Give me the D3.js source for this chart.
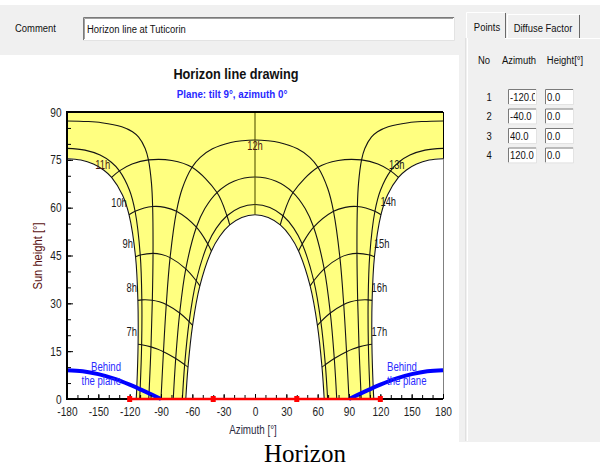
<!DOCTYPE html>
<html>
<head>
<meta charset="utf-8">
<script src="https://cdn.jsdelivr.net/npm/d3@7"></script>
<style>
  body { margin: 0; background: #fff; }
  svg { display: block; font-family: "Liberation Sans", Arial, sans-serif; }
</style>
</head>
<body>
<svg width="600" height="467"></svg>
<script>
const svg = d3.select("svg")

// ---------- data ----------
const comment = "Horizon line at Tuticorin"
const title = "Horizon line drawing"
const subtitle = "Plane: tilt 9°, azimuth 0°"

// horizon points table
const pointNo = [1, 2, 3, 4]
const pointAzimuth = [-120, -40, 40, 120]
const pointHeight = [0, 0, 0, 0]

const azimuthTicks = [-180, -150, -120, -90, -60, -30, 0, 30, 60, 90, 120, 150, 180]
const heightTicks = [0, 15, 30, 45, 60, 75, 90]

// sun paths, morning half [azimuth, height], sunrise -> solar noon
// (afternoon half is the mirror image, drawn with a mirrored x scale)
const dayPathDecl = [-23.44, -20.2, -11.6, 0, 11.6, 20.2, 23.44]
const pathM23 = [[-66.27, 0], [-64.15, 10.01], [-59.76, 23.11], [-52.80, 35.47], [-41.71, 46.42], [-33.89, 50.97], [-24.20, 54.58], [-12.69, 56.94], [0, 57.76]]
const pathM20 = [[-69.55, 0], [-67.34, 10.79], [-63.06, 24.26], [-56.29, 37.08], [-45.23, 48.62], [-37.16, 53.52], [-26.84, 57.46], [-14.23, 60.07], [0, 61.0]]
const pathM12 = [[-78.26, 0], [-75.91, 12.70], [-72.12, 26.95], [-66.26, 40.82], [-56.15, 53.86], [-48.03, 59.73], [-36.40, 64.74], [-20.22, 68.27], [0, 69.6]]
const path0 = [[-90, 0], [-87.65, 14.82], [-84.95, 29.61], [-81.30, 44.33], [-75.16, 58.85], [-69.72, 65.93], [-60.28, 72.66], [-52.42, 75.78], [-40.70, 78.46], [-23.21, 80.44], [-12.06, 81.0], [0, 81.2]]
const pathP12 = [[-101.74, 0], [-101.47, 1.76], [-99.59, 16.34], [-98.30, 30.98], [-97.63, 45.66], [-98.01, 60.35], [-99.13, 67.69], [-102.02, 74.98], [-105.15, 78.58], [-111.40, 82.10], [-117.30, 83.80], [-127.54, 85.37], [-146.82, 86.65], [-160.75, 87.03], [-180, 87.2]]
const pathP20 = [[-110.45, 0], [-109.98, 3.03], [-108.54, 17.03], [-108.34, 31.10], [-109.86, 45.13], [-114.81, 58.88], [-120.15, 65.47], [-129.80, 71.55], [-137.56, 74.23], [-148.31, 76.48], [-162.8, 78.04], [-180, 78.6]]
const pathP23 = [[-113.73, 0], [-113.19, 3.49], [-111.93, 17.19], [-112.12, 30.94], [-114.37, 44.59], [-120.62, 57.79], [-126.88, 63.96], [-137.30, 69.49], [-144.98, 71.83], [-154.73, 73.69], [-166.68, 74.93], [-180, 75.36]]
const dayPaths = [pathM23, pathM20, pathM12, path0, pathP12, pathP20, pathP23]

// hour lines (morning), from winter to summer path
const hour7 = [[-64.15, 10.01], [-67.34, 10.79], [-75.91, 12.70], [-87.65, 14.82], [-93.60, 15.66], [-99.59, 16.34], [-108.54, 17.03], [-111.93, 17.19]]
const hour8 = [[-59.76, 23.11], [-63.06, 24.26], [-72.12, 26.95], [-84.95, 29.61], [-91.58, 30.47], [-98.30, 30.98], [-108.34, 31.10], [-112.12, 30.94]]
const hour9 = [[-52.80, 35.47], [-56.29, 37.08], [-66.26, 40.82], [-81.30, 44.33], [-89.37, 45.29], [-97.63, 45.66], [-109.86, 45.13], [-114.37, 44.59]]
const hour10 = [[-41.71, 46.42], [-45.23, 48.62], [-56.15, 53.86], [-75.16, 58.85], [-86.33, 60.10], [-98.01, 60.35], [-114.81, 58.88], [-120.62, 57.79]]
const hour11 = [[-24.20, 54.58], [-26.84, 57.46], [-36.40, 64.74], [-60.28, 72.66], [-79.60, 74.80], [-102.02, 74.98], [-117.66, 73.69], [-129.80, 71.55], [-137.30, 69.49]]
const hourLines = [hour7, hour8, hour9, hour10, hour11]
const noonLine = [[0, 57.76], [0, 90]]

const hourLabels = ["7h", "8h", "9h", "10h", "11h", "12h", "13h", "14h", "15h", "16h", "17h"]
const hourLabelAz = [-118.1, -118.1, -121.9, -130.2, -145.8, 0, 135.7, 127.6, 121.3, 119.0, 119.0]
const hourLabelHeight = [21.1, 34.9, 48.6, 61.7, 73.6, 79.3, 73.6, 61.9, 48.6, 34.9, 21.1]

// plane tilt 9°: sun behind the plane below this line (left side, mirrored on right)
const behindAz = [-180, -165, -150, -135, -120, -105, -90]
const behindHeight = [9.0, 8.7, 7.8, 6.4, 4.5, 2.3, 0]

// ---------- UI frame ----------
const gray = "#f0f0f0"
const uiFont = 11

svg.append("rect").attr("x", 0).attr("y", 5).attr("width", 460).attr("height", 50).attr("fill", gray)
svg.append("rect").attr("x", 459).attr("y", 5).attr("width", 141).attr("height", 437).attr("fill", gray)

function uiText(parent, xx, yy, txt, anchor, sx) {
  return parent.append("text")
    .attr("transform", `translate(${xx},${yy}) scale(${sx || 0.86},1)`)
    .attr("text-anchor", anchor || "start")
    .attr("font-size", uiFont)
    .attr("fill", "#111")
    .text(txt)
}

uiText(svg, 15, 32, "Comment")
// sunken text box
svg.append("rect").attr("x", 83).attr("y", 17).attr("width", 371).attr("height", 23).attr("fill", "#fff")
svg.append("path").attr("d", "M83.5,40V17.5H454").attr("stroke", "#7a7a7a").attr("fill", "none")
svg.append("path").attr("d", "M84.5,39V18.5H453").attr("stroke", "#a0a0a0").attr("fill", "none")
svg.append("path").attr("d", "M83,40.5H454.5V17").attr("stroke", "#e3e3e3").attr("fill", "none")
uiText(svg, 87, 33, comment)

// tabs
svg.append("path").attr("d", "M466.5,38V12.5H505").attr("stroke", "#fff").attr("fill", "none")
svg.append("path").attr("d", "M505.5,13V38").attr("stroke", "#696969").attr("fill", "none")
svg.append("path").attr("d", "M507.5,38V14.5H579").attr("stroke", "#fff").attr("fill", "none")
svg.append("path").attr("d", "M579.5,15V38").attr("stroke", "#696969").attr("fill", "none")
svg.append("path").attr("d", "M505,38.5H600").attr("stroke", "#fff").attr("fill", "none")
svg.append("path").attr("d", "M465.5,38V441").attr("stroke", "#e0e0e0").attr("fill", "none")
svg.append("path").attr("d", "M467.5,38V441").attr("stroke", "#fff").attr("fill", "none")
uiText(svg, 487, 31, "Points", "middle")
uiText(svg, 543, 32, "Diffuse Factor", "middle")

uiText(svg, 484, 64, "No", "middle")
uiText(svg, 519, 64, "Azimuth", "middle")
uiText(svg, 565, 64, "Height[°]", "middle")

const rowY = d3.scaleLinear().domain([1, 4]).range([89, 147.5])
const fmt = d3.format(".1f")
pointNo.forEach((n, i) => {
  const rowTop = rowY(n)
  uiText(svg, 489, rowTop + 11.5, String(n), "middle")
  ;[[508, pointAzimuth[i]], [545, pointHeight[i]]].forEach(([bx, v], j) => {
    const id = `clip${i}${j}`
    svg.append("clipPath").attr("id", id)
      .append("rect").attr("x", bx + 2).attr("y", rowTop).attr("width", 25).attr("height", 15)
    svg.append("rect").attr("x", bx).attr("y", rowTop).attr("width", 28).attr("height", 15).attr("fill", "#fff")
    svg.append("path").attr("d", `M${bx + 0.5},${rowTop + 15}V${rowTop + 0.5}H${bx + 28}`).attr("stroke", "#7a7a7a").attr("fill", "none")
    svg.append("path").attr("d", `M${bx},${rowTop + 15.5}H${bx + 28.5}V${rowTop}`).attr("stroke", "#e3e3e3").attr("fill", "none")
    const cell = svg.append("g").attr("clip-path", `url(#${id})`)
    uiText(cell, bx + 2, rowTop + 11.5, fmt(v).replace("\u2212", "-"))
  })
})

// caption
svg.append("text")
  .attr("x", 305).attr("y", 462)
  .attr("text-anchor", "middle")
  .attr("font-family", "'Liberation Serif', 'Times New Roman', serif")
  .attr("font-size", 25)
  .attr("fill", "#000")
  .text("Horizon")

// ---------- chart ----------
const plotLeft = 67, plotRight = 443, plotTop = 112, plotBottom = 399
const x = d3.scaleLinear().domain([-180, 180]).range([plotLeft, plotRight])
const xPm = d3.scaleLinear().domain([-180, 180]).range([plotRight, plotLeft]) // afternoon mirror
const y = d3.scaleLinear().domain([0, 90]).range([plotBottom, plotTop])

const g = svg.append("g")

// right axis sits under the fill (only shows in the white parts)
g.append("line").attr("x1", plotRight).attr("x2", plotRight).attr("y1", plotTop).attr("y2", plotBottom)
  .attr("stroke", "#000").attr("stroke-width", 2)
g.append("g").attr("transform", `translate(${plotRight},0)`)
  .call(d3.axisRight(y).tickValues(d3.range(0, 91, 5)).tickSize(-4).tickFormat(""))
  .call(a => a.select(".domain").remove())
  .selectAll("line").attr("stroke", "#000")

// yellow sun zone, with white holes under the solstice paths
g.append("rect").attr("x", plotLeft).attr("y", plotTop)
  .attr("width", plotRight - plotLeft).attr("height", plotBottom - plotTop)
  .attr("fill", "#ffff80")

const curve = d3.line().curve(d3.curveCatmullRom.alpha(0.5))
const amPts = p => p.map(d => [x(d[0]), y(d[1])])
const pmPts = p => p.map(d => [xPm(d[0]), y(d[1])])

g.append("path")
  .attr("d", curve(amPts(pathP23)) + `L${x(-180)},${y(0)}Z`)
  .attr("fill", "#fff").attr("stroke", "#fff")
g.append("path")
  .attr("d", curve(pmPts(pathP23)) + `L${xPm(-180)},${y(0)}Z`)
  .attr("fill", "#fff").attr("stroke", "#fff")
g.append("path")
  .attr("d", curve(amPts(pathM23).concat(pmPts(pathM23).reverse().slice(1))) + "Z")
  .attr("fill", "#fff").attr("stroke", "#fff")

// day paths
const ink = "#141414"
dayPaths.forEach(p => {
  const noonAz = p[p.length - 1][0]
  if (noonAz === 0) {
    g.append("path")
      .attr("d", curve(amPts(p).concat(pmPts(p).reverse().slice(1))))
      .attr("fill", "none").attr("stroke", ink).attr("stroke-width", 1.1)
  } else {
    [amPts(p), pmPts(p)].forEach(pts => {
      g.append("path").attr("d", curve(pts))
        .attr("fill", "none").attr("stroke", ink).attr("stroke-width", 1.1)
    })
  }
})

// hour lines
hourLines.forEach(h => {
  [amPts(h), pmPts(h)].forEach(pts => {
    g.append("path").attr("d", curve(pts))
      .attr("fill", "none").attr("stroke", ink).attr("stroke-width", 1.1)
  })
})
g.append("path").attr("d", d3.line()(amPts(noonLine)))
  .attr("stroke", "#555500").attr("stroke-width", 1.1).attr("fill", "none")

hourLabels.forEach((t, i) => {
  g.append("text")
    .attr("transform", `translate(${x(hourLabelAz[i])},${y(hourLabelHeight[i])}) scale(0.78,1)`)
    .attr("dy", "0.36em")
    .attr("text-anchor", "middle")
    .attr("font-size", 12)
    .attr("fill", i === 4 || i === 5 ? "#4a1a10" : "#1a1a1a")
    .text(t)
})

// behind the plane
const behind = behindAz.map((a, i) => [a, behindHeight[i]])
;[amPts(behind), pmPts(behind)].forEach(pts => {
  g.append("path").attr("d", curve(pts))
    .attr("fill", "none").attr("stroke", "#0000ff").attr("stroke-width", 4)
})

// frame: left, top, bottom
g.append("path")
  .attr("d", `M${plotRight},${plotTop}H${plotLeft}V${plotBottom}H${plotRight}`)
  .attr("fill", "none").attr("stroke", "#000").attr("stroke-width", 2)

const tickFont = a => a.selectAll("text")
  .attr("font-size", 13)
  .attr("fill", "#1e1e1e")
  .attr("font-family", "'Liberation Sans', Arial, sans-serif")
const plain = d => String(d)

g.append("g").attr("transform", `translate(0,${plotBottom})`)
  .call(d3.axisBottom(x).tickValues(d3.range(-180, 181, 10)).tickSize(-4).tickFormat(""))
  .call(a => a.select(".domain").remove())
  .selectAll("line").attr("stroke", "#000")
g.append("g").attr("transform", `translate(0,${plotBottom})`)
  .call(d3.axisBottom(x).tickValues(azimuthTicks).tickSize(-5).tickPadding(8).tickFormat(plain))
  .call(a => a.select(".domain").remove())
  .call(tickFont)
  .call(a => a.selectAll("text").attr("transform", "scale(0.78,1)"))
  .selectAll("line").attr("stroke", "#000")

g.append("g").attr("transform", `translate(${plotLeft},0)`)
  .call(d3.axisLeft(y).tickValues(d3.range(0, 91, 5)).tickSize(-4).tickFormat(""))
  .call(a => a.select(".domain").remove())
  .selectAll("line").attr("stroke", "#000")
g.append("g").attr("transform", `translate(${plotLeft},0)`)
  .call(d3.axisLeft(y).tickValues(heightTicks).tickSize(-6).tickPadding(7).tickFormat(plain))
  .call(a => a.select(".domain").remove())
  .call(tickFont)
  .call(a => a.selectAll("text").attr("transform", "scale(0.78,1)"))
  .selectAll("line").attr("stroke", "#000")

// horizon line with its points
const horizon = pointAzimuth.map((a, i) => [a, pointHeight[i]])
g.append("path").attr("d", d3.line()(amPts(horizon)))
  .attr("stroke", "#ff0000").attr("stroke-width", 2.5).attr("fill", "none")
g.selectAll(".hp").data(horizon).join("rect")
  .attr("x", d => x(d[0]) - 2.5).attr("y", d => y(d[1]) - 3)
  .attr("width", 5).attr("height", 6)
  .attr("fill", "#ff0000")

// labels
function blueText(xx, yy, t, anchor) {
  g.append("text")
    .attr("transform", `translate(${xx},${yy}) scale(0.8,1)`)
    .attr("text-anchor", anchor)
    .attr("font-size", 12)
    .attr("fill", "#2a2aff")
    .text(t)
}
blueText(121, 371, "Behind", "end")
blueText(121, 385, "the plane", "end")
blueText(387, 371, "Behind", "start")
blueText(387, 385, "the plane", "start")

svg.append("text")
  .attr("transform", "translate(236,79) scale(0.91,1)")
  .attr("text-anchor", "middle")
  .attr("font-size", 14).attr("font-weight", "bold")
  .attr("fill", "#111")
  .text(title)
svg.append("text")
  .attr("transform", "translate(232,98) scale(0.89,1)")
  .attr("text-anchor", "middle")
  .attr("font-size", 11).attr("font-weight", "bold")
  .attr("fill", "#2828ff")
  .text(subtitle)

svg.append("text")
  .attr("transform", "translate(253,434) scale(0.82,1)")
  .attr("text-anchor", "middle")
  .attr("font-size", 12)
  .attr("fill", "#2a2a40")
  .text("Azimuth [°]")
svg.append("text")
  .attr("transform", "translate(42,256) rotate(-90) scale(0.93,1)")
  .attr("text-anchor", "middle")
  .attr("font-size", 12)
  .attr("fill", "#5a1010")
  .text("Sun height [°]")
</script>
</body>
</html>
